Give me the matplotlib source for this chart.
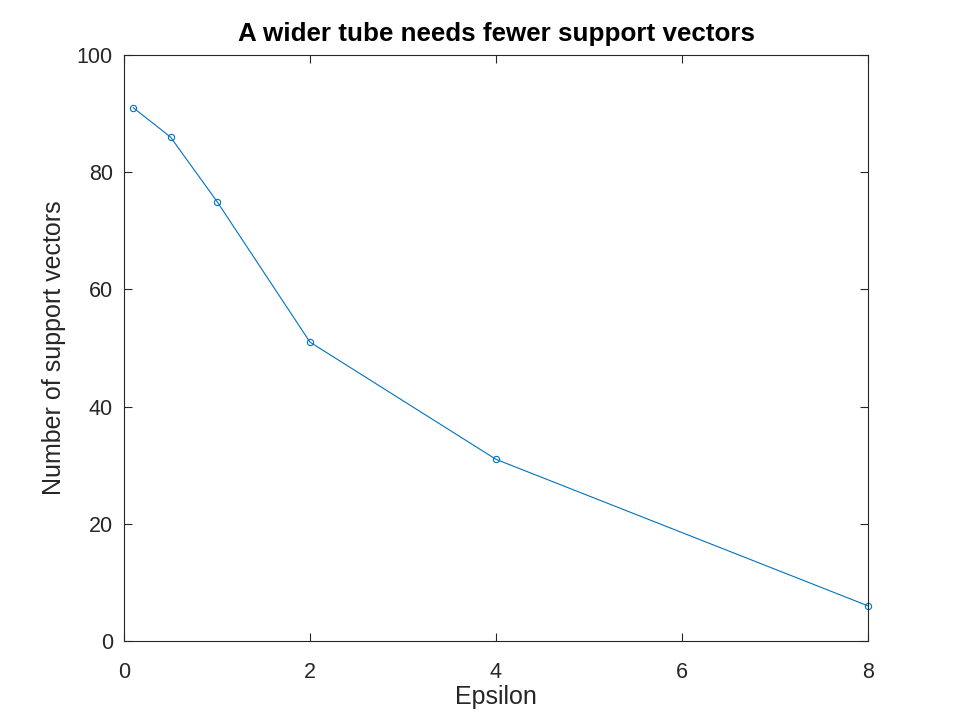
import matplotlib as mpl
mpl.use('Agg')
import matplotlib.pyplot as plt

epsilon = [0.1, 0.5, 1, 2, 4, 8]
n_support = [91, 86, 75, 51, 31, 6]
x_ticks = [0, 2, 4, 6, 8]
y_ticks = [0, 20, 40, 60, 80, 100]

plt.rcParams['font.family'] = ['Liberation Sans', 'DejaVu Sans']

fig = plt.figure(figsize=(9.6, 7.2), dpi=100)
ax = fig.add_axes([124/960, 1 - 641/720, (868-124)/960, (641-55)/720])

ax.plot(epsilon, n_support, 'o-', color='#0072BD', linewidth=0.8,
        markersize=4.5, markerfacecolor='none', markeredgewidth=0.8,
        clip_on=False)

ax.set_xlim(0, 8)
ax.set_ylim(0, 100)
ax.set_xticks(x_ticks)
ax.set_yticks(y_ticks)
ax.tick_params(direction='in', top=True, right=True, length=5.5, width=0.8,
               labelsize=15.5, colors='#262626')
ax.tick_params(axis='x', pad=15)
ax.tick_params(axis='y', pad=8)
for s in ax.spines.values():
    s.set_color('#262626')
    s.set_linewidth(0.8)

ax.set_xlabel("Epsilon", fontsize=18, color='#262626', labelpad=1.5)
ax.set_ylabel("Number of support vectors", fontsize=18, color='#262626', labelpad=8)
ax.set_title("A wider tube needs fewer support vectors", fontsize=18.7,
             fontweight='bold', pad=10)

fig.savefig("out.png", dpi=100)
